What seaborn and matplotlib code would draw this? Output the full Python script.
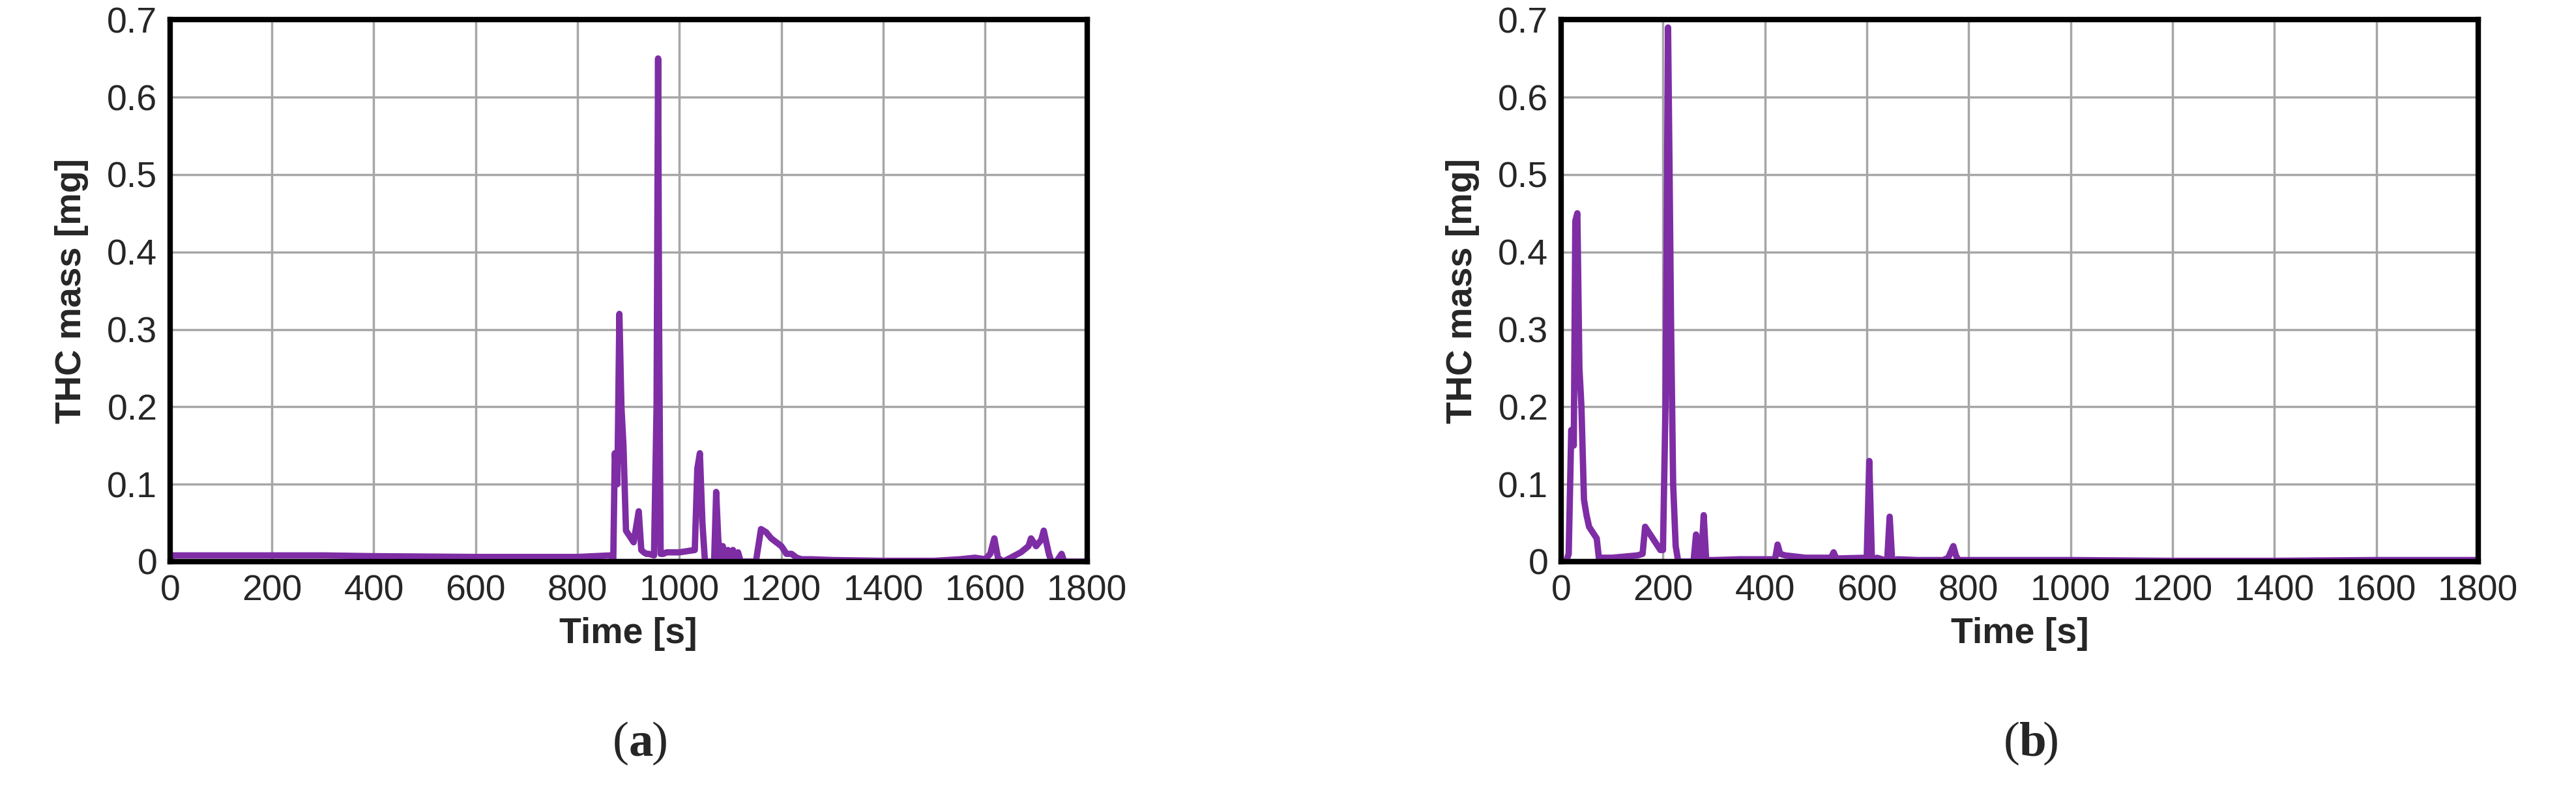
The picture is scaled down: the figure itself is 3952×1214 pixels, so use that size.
import matplotlib
matplotlib.use("Agg")
import matplotlib.pyplot as plt
import seaborn as sns
import pandas as pd

sns.set_theme(style="white")
plt.rcParams['font.family'] = ['Liberation Sans', 'DejaVu Sans']

time_a = [0, 5, 10, 100, 300, 400, 600, 800, 865, 870, 873, 878, 882, 886, 890, 895, 900, 910, 920, 925, 930, 935, 940, 950, 955, 958, 960, 963, 968, 975, 1000, 1030, 1035, 1040, 1045, 1050, 1060, 1068, 1072, 1076, 1080, 1085, 1090, 1095, 1100, 1105, 1110, 1115, 1120, 1150, 1160, 1170, 1180, 1190, 1200, 1210, 1220, 1230, 1240, 1260, 1300, 1400, 1500, 1550, 1580, 1600, 1610, 1618, 1625, 1635, 1650, 1670, 1685, 1690, 1700, 1710, 1715, 1720, 1725, 1730, 1740, 1750, 1755, 1760, 1800]
thc_a = [0.0, 0.008, 0.008, 0.008, 0.008, 0.007, 0.006, 0.006, 0.008, 0.0, 0.14, 0.10, 0.32, 0.20, 0.15, 0.04, 0.035, 0.025, 0.065, 0.015, 0.012, 0.010, 0.010, 0.008, 0.2, 0.65, 0.3, 0.01, 0.01, 0.012, 0.012, 0.015, 0.12, 0.14, 0.05, 0.0, 0.0, 0.0, 0.09, 0.03, 0.0, 0.02, 0.0, 0.015, 0.0, 0.015, 0.0, 0.012, 0.0, 0.0, 0.042, 0.038, 0.03, 0.025, 0.02, 0.01, 0.01, 0.005, 0.003, 0.003, 0.002, 0.001, 0.001, 0.003, 0.005, 0.003, 0.01, 0.03, 0.005, 0.0, 0.005, 0.012, 0.02, 0.03, 0.02, 0.028, 0.04, 0.025, 0.01, 0.0, 0.0, 0.01, 0.0, 0.0, 0.0]

time_b = [0, 10, 15, 20, 25, 28, 32, 36, 40, 45, 50, 55, 60, 70, 75, 80, 100, 150, 160, 165, 170, 180, 190, 195, 200, 205, 210, 213, 216, 220, 225, 230, 235, 240, 260, 265, 270, 275, 280, 285, 290, 300, 350, 400, 420, 425, 430, 440, 480, 530, 535, 540, 600, 605, 610, 615, 620, 630, 640, 645, 650, 660, 700, 750, 760, 770, 775, 780, 790, 800, 900, 1000, 1200, 1400, 1600, 1700, 1800]
thc_b = [0.0, 0.0, 0.01, 0.17, 0.15, 0.44, 0.45, 0.25, 0.2, 0.08, 0.06, 0.045, 0.04, 0.03, 0.0, 0.005, 0.005, 0.008, 0.01, 0.045, 0.04, 0.03, 0.02, 0.015, 0.015, 0.2, 0.69, 0.5, 0.3, 0.1, 0.02, 0.0, 0.0, 0.0, 0.0, 0.035, 0.0, 0.0, 0.06, 0.0, 0.002, 0.002, 0.003, 0.003, 0.003, 0.022, 0.01, 0.008, 0.005, 0.005, 0.012, 0.004, 0.005, 0.13, 0.005, 0.0, 0.005, 0.003, 0.0, 0.058, 0.0, 0.003, 0.002, 0.002, 0.005, 0.02, 0.008, 0.002, 0.002, 0.002, 0.002, 0.002, 0.001, 0.001, 0.002, 0.002, 0.002]

panels = [(time_a, thc_a, 0.066, "a"), (time_b, thc_b, 0.606, "b")]
purple = "#7E2DA5"

fig = plt.figure(figsize=(39.52, 12.14), dpi=100)
for t, v, left, letter in panels:
    ax = fig.add_axes([left, 0.29, 0.356, 0.685])
    df = pd.DataFrame({"Time": t, "THC": v})
    ax.axhline(0, color="black", lw=6, zorder=1.5)
    sns.lineplot(data=df, x="Time", y="THC", ax=ax, color=purple, linewidth=7, zorder=2)
    ax.set_xlim(0, 1800)
    ax.set_ylim(0, 0.7)
    ax.set_xticks(range(0, 1801, 200))
    ax.set_yticks([0, 0.1, 0.2, 0.3, 0.4, 0.5, 0.6, 0.7])
    ax.set_yticklabels(["0", "0.1", "0.2", "0.3", "0.4", "0.5", "0.6", "0.7"])
    ax.grid(True, color="#A6A6A6", lw=2.5)
    ax.set_axisbelow(True)
    for s in ax.spines.values():
        s.set_color("black"); s.set_linewidth(6)
    ax.tick_params(labelsize=40, length=0, pad=14)
    ax.set_xlabel("Time [s]", fontsize=40, fontweight="bold", labelpad=10)
    ax.set_ylabel("THC mass [mg]", fontsize=40, fontweight="bold", labelpad=20)
    cx = left + 0.356 * 0.5
    fig.text(cx, 0.06, "(", fontsize=54, ha="right", va="center", family="Liberation Serif")
    fig.text(cx, 0.06, letter, fontsize=54, ha="left", va="center", fontweight="bold", family="Liberation Serif")
    fig.text(cx + 0.009, 0.06, ")", fontsize=54, ha="left", va="center", family="Liberation Serif")

fig.savefig("out.png", dpi=100, facecolor="white")
